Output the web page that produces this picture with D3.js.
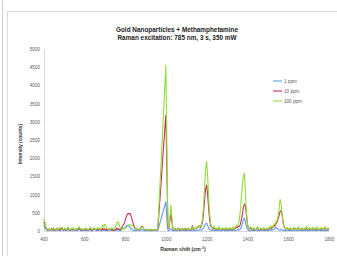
<!DOCTYPE html>
<html><head><meta charset="utf-8">
<script src="https://cdn.jsdelivr.net/npm/d3@7"></script>
<style>html,body{margin:0;padding:0;background:#fff;overflow:hidden}svg{display:block}</style>
</head><body><svg id="c" width="337" height="256"></svg>
<script>
// Raman shift sampled every 5 cm-1 from 400 to 1800
const shiftStart = 400, shiftEnd = 1800, shiftStep = 5;
const seriesNames = ["1 ppm", "10 ppm", "100 ppm"];
const xTicks = [400, 600, 800, 1000, 1200, 1400, 1600, 1800];
const yTicks = [0, 500, 1000, 1500, 2000, 2500, 3000, 3500, 4000, 4500, 5000];

const ppm1 = [
150,120,60,30,10,30,10,20,40,10,30,10,20,40,10,30,10,20,50,20,
10,30,10,20,50,20,10,30,10,40,20,10,30,10,20,60,20,10,20,10,
20,30,10,20,10,20,40,10,10,30,50,20,10,20,10,30,20,10,40,20,
30,10,20,10,20,30,10,20,10,20,10,20,30,20,30,10,20,40,60,80,
100,130,160,165,140,100,60,40,20,10,20,10,30,20,10,20,40,30,20,10,
10,20,10,20,10,20,10,10,20,10,20,10,20,100,200,300,400,500,600,700,
805,300,20,10,30,60,20,10,20,10,20,10,30,10,20,10,30,20,10,20,
10,20,30,10,20,10,30,20,10,20,30,10,20,40,30,20,50,80,150,200,
210,150,80,40,20,10,20,30,10,20,10,30,20,10,20,10,30,20,10,20,
10,20,10,30,20,10,20,30,10,20,30,40,30,50,100,200,300,348,250,120,
50,20,10,20,30,10,20,10,20,30,10,20,10,20,30,10,20,10,30,20,
10,20,30,20,40,30,50,60,100,80,40,30,20,40,30,20,10,20,10,20,
20,10,30,20,10,20,10,30,20,10,20,30,10,20,10,20,30,10,20,10,
20,10,30,20,10,20,30,10,20,10,30,20,10,20,30,10,20,10,20,30,
20];

const ppm10 = [
250,220,120,50,30,60,20,40,70,30,50,20,40,80,30,60,20,50,90,40,
30,60,20,40,90,40,20,50,30,70,40,20,60,30,50,90,40,20,40,30,
40,60,20,50,30,40,70,30,20,60,80,40,30,50,30,60,40,20,70,40,
60,30,50,20,40,60,30,50,20,40,30,50,80,40,60,30,50,100,150,200,
280,380,450,486,470,480,400,300,200,120,60,40,70,50,30,60,120,130,80,40,
30,50,20,40,30,40,20,30,40,30,40,30,40,400,800,1200,1600,2000,2400,2800,
3180,1700,150,60,300,480,250,40,30,60,40,30,80,50,20,60,40,30,70,40,
50,30,80,40,20,60,150,40,90,60,70,110,100,130,90,150,250,500,850,1150,
1264,1000,600,300,150,80,50,100,60,40,70,30,90,50,30,80,40,60,30,70,
50,30,70,40,60,30,90,50,70,100,90,130,120,180,300,450,650,742,700,450,
180,80,50,90,60,30,70,50,30,60,90,40,30,60,50,30,70,40,30,60,
40,70,90,60,100,90,150,130,200,250,320,420,530,558,450,250,120,70,50,80,
50,30,70,40,30,60,80,50,30,60,90,40,30,70,50,30,60,40,90,50,
30,70,50,30,80,40,60,30,90,50,30,60,40,70,30,60,90,50,30,70,
50];

const ppm100 = [
330,300,150,60,40,70,30,50,20,60,90,40,30,70,40,60,100,50,30,60,
40,80,30,60,110,50,30,70,40,90,50,30,60,40,80,120,60,40,70,30,
50,90,40,60,30,70,110,50,40,80,60,30,50,90,70,40,60,100,150,110,
180,170,80,40,60,30,50,90,60,40,80,150,230,260,200,110,60,40,70,50,
60,90,110,140,170,180,160,150,120,80,60,40,70,50,30,60,90,120,70,40,
30,50,20,40,30,50,20,30,40,20,50,30,40,570,1140,1700,2280,2840,3400,3980,
4550,2400,200,80,400,710,350,60,40,80,30,60,50,90,40,30,70,50,40,80,
60,40,90,50,30,80,120,60,100,50,80,130,90,150,120,200,350,700,1200,1700,
1905,1500,900,450,200,100,60,140,90,50,80,40,120,60,30,90,50,70,40,100,
60,40,90,50,80,40,120,60,100,150,130,200,300,550,900,1250,1500,1585,1100,500,
200,100,60,120,80,40,90,60,30,70,120,50,40,80,60,30,90,60,40,80,
50,90,120,80,150,100,200,170,250,300,400,600,870,750,450,200,110,80,60,100,
60,40,90,50,30,80,100,60,40,70,110,50,30,90,60,40,80,50,120,70,
40,90,60,30,100,50,80,40,110,60,30,80,50,90,40,70,120,60,40,90,
60];

const seriesValues = [ppm1, ppm10, ppm100];
const colors = ["#5b9bff", "#cc2f4f", "#92dd3a"];

const svg = d3.select("#c");
const font = "'Liberation Sans', Arial, sans-serif";

// frame
svg.append("line").attr("x1", 2.5).attr("x2", 2.5).attr("y1", 0).attr("y2", 256)
  .attr("stroke", "#d0d0d0").attr("stroke-width", 1);
svg.append("rect").attr("x", 7.5).attr("y", 11.5).attr("width", 340).attr("height", 260)
  .attr("fill", "#fff").attr("stroke", "#d9d9d9").attr("stroke-width", 1);

const x = d3.scaleLinear().domain([400, 1800]).range([43.5, 329]);
const y = d3.scaleLinear().domain([0, 5000]).range([231, 49]);

// axes
const xAxis = svg.append("g").attr("transform", "translate(0,231)")
  .call(d3.axisBottom(x).tickValues(xTicks).tickSize(0).tickPadding(7).tickFormat(d3.format("d")));
const yAxis = svg.append("g").attr("transform", "translate(44,0)")
  .call(d3.axisLeft(y).tickValues(yTicks).tickSize(0).tickPadding(4).tickFormat(d3.format("d")));
[xAxis, yAxis].forEach(g => {
  g.select(".domain").attr("stroke", "#d9d9d9").attr("stroke-width", 1);
  g.selectAll("text").attr("font-family", font).attr("font-size", 4.6).attr("fill", "#595959");
});

// series
const shifts = d3.range(shiftStart, shiftEnd + 1, shiftStep);
const line = d3.line().x((d, i) => x(shifts[i])).y(d => y(d));
seriesValues.forEach((vals, k) => {
  svg.append("path").datum(vals).attr("d", line)
    .attr("fill", "none").attr("stroke", colors[k]).attr("stroke-width", 1.1)
    .attr("stroke-linejoin", "round");
});

// titles
svg.append("text").attr("x", 177).attr("y", 32).attr("text-anchor", "middle")
  .attr("font-family", font).attr("font-weight", "bold").attr("font-size", 6.4).attr("fill", "#222")
  .text("Gold Nanoparticles + Methamphetamine");
svg.append("text").attr("x", 177).attr("y", 39.5).attr("text-anchor", "middle")
  .attr("font-family", font).attr("font-weight", "bold").attr("font-size", 6.4).attr("fill", "#222")
  .text("Raman excitation: 785 nm, 3 s, 350 mW");

const xt = svg.append("text").attr("x", 183).attr("y", 251).attr("text-anchor", "middle")
  .attr("font-family", font).attr("font-weight", "bold").attr("font-size", 5.2).attr("fill", "#333");
xt.append("tspan").text("Raman shift (cm");
xt.append("tspan").attr("dy", -2).attr("font-size", 3.6).text("-1");
xt.append("tspan").attr("dy", 2).text(")");

svg.append("text").attr("transform", "translate(22,144) rotate(-90)").attr("text-anchor", "middle")
  .attr("font-family", font).attr("font-weight", "bold").attr("font-size", 4.8).attr("fill", "#333")
  .text("Intensity (counts)");

// legend
seriesNames.forEach((name, k) => {
  const ly = 81 + k * 10;
  svg.append("line").attr("x1", 273).attr("x2", 282).attr("y1", ly).attr("y2", ly)
    .attr("stroke", colors[k]).attr("stroke-width", 1.1);
  svg.append("text").attr("x", 284).attr("y", ly + 1.6)
    .attr("font-family", font).attr("font-size", 4.6).attr("fill", "#595959").text(name);
});
</script></body></html>
